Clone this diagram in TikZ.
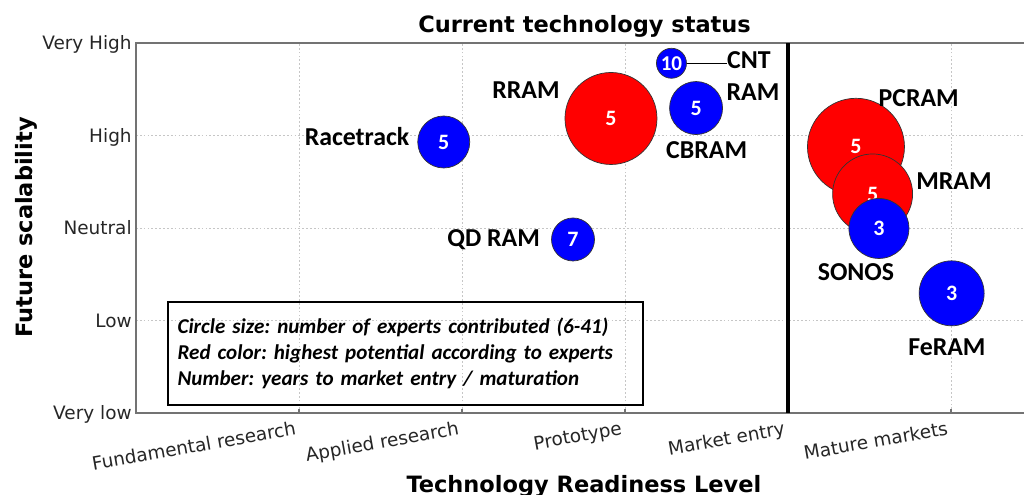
\documentclass[tikz,border=0pt]{standalone}
\usepackage{fontspec}
\usetikzlibrary{positioning}
\newfontfamily\labelfont{Carlito}
\newfontfamily\axisfont{DejaVu Sans}
\definecolor{bubblered}{RGB}{255,0,0}
\definecolor{bubbleblue}{RGB}{0,0,255}
\definecolor{framegray}{RGB}{115,115,115}
\frenchspacing
\tikzset{
    bubble/.style={circle, draw=black!80, line width=0.4pt, inner sep=0pt, text=white,
      font=\labelfont\bfseries\fontsize{12.5}{14}\selectfont}, % look shared by all bubbles
    redbubble/.style={bubble, fill=bubblered}, % highest potential
    bluebubble/.style={bubble, fill=bubbleblue},
    tech/.style={font=\labelfont\bfseries\fontsize{14.7}{17}\selectfont, inner sep=0pt}, % technology names
    grid line/.style={gray!45, line width=0.4pt, dash pattern=on 1pt off 1.2pt},
    ticklabel/.style={font=\axisfont\fontsize{10.5}{12}\selectfont, inner sep=0pt, text=black!85},
    axistitle/.style={font=\axisfont\bfseries\fontsize{12.8}{15}\selectfont, inner sep=0pt},
    legendbox/.style={draw, line width=1.1pt, inner xsep=0.2cm, align=left,
      font=\labelfont\bfseries\itshape\fontsize{12}{14.7}\selectfont},
}

\begin{document}
\begin{tikzpicture}[x=3.26cm, y=1.85cm]
  \useasboundingbox (-0.8344,-0.8757) rectangle (5.4479,4.4649);

  % grid and frame
  \foreach \gx in {1,...,5}
    \draw[grid line] (\gx,0) -- (\gx,4);
  \foreach \gy in {1,2,3}
    \draw[grid line] (0,\gy) -- (5.4479,\gy);
  \draw[framegray, line width=0.8pt] (5.4479,4) -- (0,4) -- (0,0) -- (5.4479,0);
  \foreach \gx in {1,...,5}
    \draw[framegray, line width=0.6pt] (\gx,0) -- ++(0,0.045);
  \draw[line width=2.4pt] (4,0) -- (4,4);

  % tick labels
  \foreach \gy/\txt in {0/Very low, 1/Low, 2/Neutral, 3/High, 4/Very High}
    \node[ticklabel, anchor=base east] (ylab\gy) at ([xshift=-0.08cm, yshift=-0.135cm]0,\gy) {\txt};
  \foreach \gx/\txt in {1/Fundamental research, 2/Applied research, 3/Prototype, 4/Market entry, 5/Mature markets}
    \node[ticklabel, rotate=10, anchor=base east] (xlab\gx) at ([xshift=-0.04cm, yshift=-0.43cm]\gx,0) {\txt};

  % titles
  \node[axistitle, anchor=base] (title) at (2.752,4.116) {Current technology status};
  \node[axistitle, anchor=base] (xtitle) at (2.748,-0.862) {Technology Readiness Level};
  \node[axistitle, anchor=base, rotate=90] (ytitle) at (-0.638,2.005) {Future scalability};

  % bubbles
  \node[bluebubble, minimum size=0.6cm, font=\labelfont\bfseries\fontsize{12}{13}\selectfont] (cnt) at (3.285,3.781) {10};
  \node[redbubble, minimum size=1.84cm] (rram) at (2.914,3.184) {5};
  \node[bluebubble, minimum size=1.06cm] (cbram) at (3.436,3.297) {5};
  \node[bluebubble, minimum size=1.04cm] (racetrack) at (1.888,2.930) {5};
  \node[bluebubble, minimum size=0.86cm] (qdram) at (2.681,1.876) {7};
  \node[redbubble, minimum size=1.94cm] (pcram) at (4.417,2.878) {5};
  \node[redbubble, minimum size=1.6cm] (mram) at (4.519,2.368) {5};
  \node[bluebubble, minimum size=1.2cm] (sonos) at (4.558,1.995) {3};
  \node[bluebubble, minimum size=1.3cm] (feram) at (5.004,1.294) {3};

  % names
  \node[tech, right=0.8cm of cnt, yshift=0.066cm] (cntname) {CNT};
  \draw[line width=0.6pt] (cnt.east) -- (cnt.east -| cntname.west);
  \node[tech] (rramname) at (2.393,3.492) {RRAM};
  \node[tech] (ramname) at (3.785,3.470) {RAM};
  \node[tech] (cbramname) at (3.501,2.838) {CBRAM};
  \node[tech] (racetrackname) at (1.356,2.987) {Racetrack};
  \node[tech] (qdramname) at (2.194,1.870) {QD RAM};
  \node[tech] (pcramname) at (4.802,3.405) {PCRAM};
  \node[tech] (mramname) at (5.018,2.503) {MRAM};
  \node[tech] (sonosname) at (4.417,1.524) {SONOS};
  \node[tech] (feramname) at (4.975,0.714) {FeRAM};

  % legend
  \node[legendbox, anchor=north west, text width=9.112cm, minimum height=2.072cm] (legend) at (0.188,1.214)
    {Circle size: number of experts contributed (6-41)\\
     Red color: highest potential according to experts\\
     Number: years to market entry / maturation};
\end{tikzpicture}
\end{document}
